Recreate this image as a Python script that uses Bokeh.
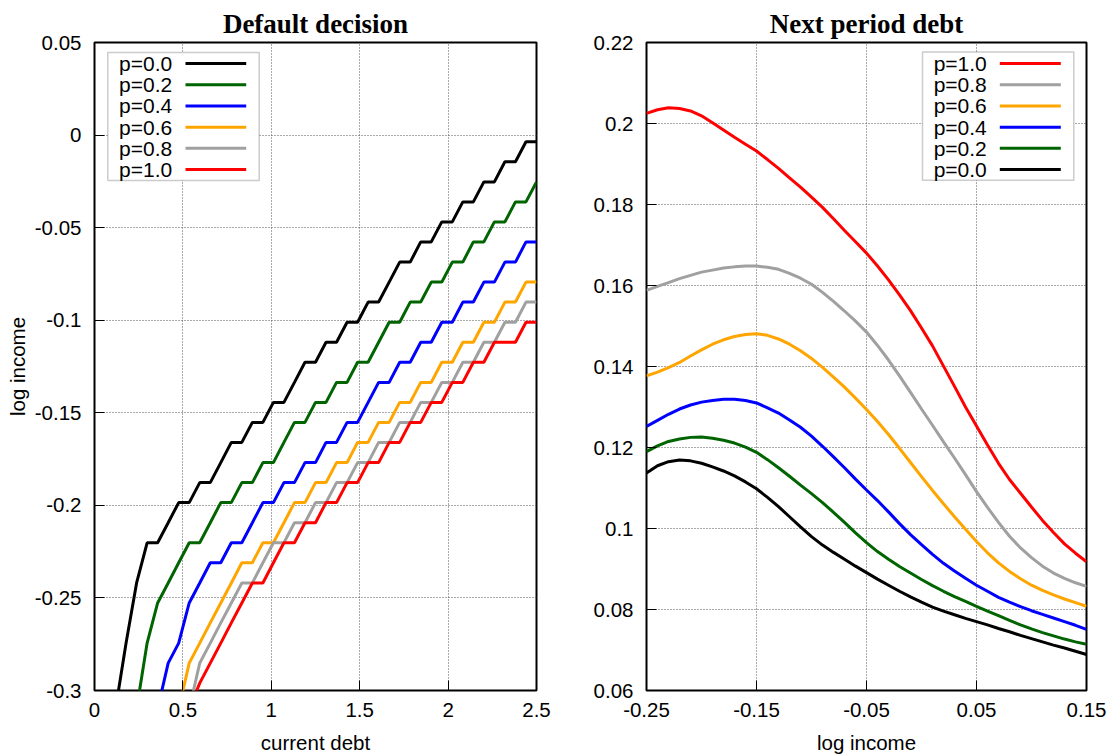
from bokeh.embed import file_html
from bokeh.resources import INLINE
from bokeh.plotting import figure
from bokeh.layouts import row
from bokeh.models import Range1d, FixedTicker, BoxAnnotation, Label

# ---------------------- DATOS ----------------------

# panel izquierdo: umbral de default (log income) segun la deuda actual
debt = [0.0, 0.0595, 0.1190, 0.1786, 0.2381, 0.2976, 0.3571, 0.4167, 0.4762, 0.5357,
        0.5952, 0.6548, 0.7143, 0.7738, 0.8333, 0.8929, 0.9524, 1.0119, 1.0714, 1.1310,
        1.1905, 1.2500, 1.3095, 1.3690, 1.4286, 1.4881, 1.5476, 1.6071, 1.6667, 1.7262,
        1.7857, 1.8452, 1.9048, 1.9643, 2.0238, 2.0833, 2.1429, 2.2024, 2.2619, 2.3214,
        2.3810, 2.4405, 2.5000]

default_p00 = [-0.31, -0.31, -0.31, -0.2744, -0.2419, -0.2202, -0.2202, -0.2094, -0.1985, -0.1985,
               -0.1877, -0.1877, -0.1769, -0.1660, -0.1660, -0.1552, -0.1552, -0.1444, -0.1444, -0.1336,
               -0.1227, -0.1227, -0.1119, -0.1119, -0.1011, -0.1011, -0.0902, -0.0902, -0.0794, -0.0686,
               -0.0686, -0.0577, -0.0577, -0.0469, -0.0469, -0.0361, -0.0361, -0.0253, -0.0253, -0.0144,
               -0.0144, -0.0036, -0.0036]
default_p02 = [-0.31, -0.31, -0.31, -0.31, -0.31, -0.2744, -0.2527, -0.2419, -0.2310, -0.2202,
               -0.2202, -0.2094, -0.1985, -0.1985, -0.1877, -0.1877, -0.1769, -0.1769, -0.1660, -0.1552,
               -0.1552, -0.1444, -0.1444, -0.1336, -0.1336, -0.1227, -0.1227, -0.1119, -0.1011, -0.1011,
               -0.0902, -0.0902, -0.0794, -0.0794, -0.0686, -0.0686, -0.0577, -0.0577, -0.0469, -0.0469,
               -0.0361, -0.0361, -0.0253]
default_p04 = [-0.31, -0.31, -0.31, -0.31, -0.31, -0.31, -0.31, -0.2852, -0.2744, -0.2527,
               -0.2419, -0.2310, -0.2310, -0.2202, -0.2202, -0.2094, -0.1985, -0.1985, -0.1877, -0.1877,
               -0.1769, -0.1769, -0.1660, -0.1660, -0.1552, -0.1552, -0.1444, -0.1336, -0.1336, -0.1227,
               -0.1227, -0.1119, -0.1119, -0.1011, -0.1011, -0.0902, -0.0902, -0.0794, -0.0794, -0.0686,
               -0.0686, -0.0577, -0.0577]
default_p06 = [-0.31, -0.31, -0.31, -0.31, -0.31, -0.31, -0.31, -0.31, -0.31, -0.2852,
               -0.2744, -0.2635, -0.2527, -0.2419, -0.2310, -0.2310, -0.2202, -0.2202, -0.2094, -0.1985,
               -0.1985, -0.1877, -0.1877, -0.1769, -0.1769, -0.1660, -0.1660, -0.1552, -0.1552, -0.1444,
               -0.1444, -0.1336, -0.1336, -0.1227, -0.1227, -0.1119, -0.1119, -0.1011, -0.1011, -0.0902,
               -0.0902, -0.0794, -0.0794]
default_p08 = [-0.31, -0.31, -0.31, -0.31, -0.31, -0.31, -0.31, -0.31, -0.31, -0.31,
               -0.2852, -0.2744, -0.2635, -0.2527, -0.2419, -0.2419, -0.2310, -0.2202, -0.2202, -0.2094,
               -0.2094, -0.1985, -0.1985, -0.1877, -0.1877, -0.1769, -0.1769, -0.1660, -0.1660, -0.1552,
               -0.1552, -0.1444, -0.1444, -0.1336, -0.1336, -0.1227, -0.1227, -0.1119, -0.1119, -0.1011,
               -0.1011, -0.0902, -0.0902]
default_p10 = [-0.31, -0.31, -0.31, -0.31, -0.31, -0.31, -0.31, -0.31, -0.31, -0.31,
               -0.2960, -0.2852, -0.2744, -0.2635, -0.2527, -0.2419, -0.2419, -0.2310, -0.2202, -0.2202,
               -0.2094, -0.2094, -0.1985, -0.1985, -0.1877, -0.1877, -0.1769, -0.1769, -0.1660, -0.1660,
               -0.1552, -0.1552, -0.1444, -0.1444, -0.1336, -0.1336, -0.1227, -0.1227, -0.1119, -0.1119,
               -0.1119, -0.1011, -0.1011]

# panel derecho: deuda del periodo siguiente segun log income
log_income = [-0.25, -0.24, -0.23, -0.22, -0.21, -0.20, -0.19, -0.18, -0.17, -0.16, -0.15,
              -0.14, -0.13, -0.12, -0.11, -0.10, -0.09, -0.08, -0.07, -0.06, -0.05,
              -0.04, -0.03, -0.02, -0.01, 0.00, 0.01, 0.02, 0.03, 0.04, 0.05,
              0.06, 0.07, 0.08, 0.09, 0.10, 0.11, 0.12, 0.13, 0.14, 0.15]

next_p00 = [0.1137, 0.1155, 0.1165, 0.1169, 0.1167, 0.1161, 0.1152, 0.1142, 0.1130, 0.1115, 0.1098,
            0.1077, 0.1054, 0.1029, 0.1004, 0.0980, 0.0959, 0.0941, 0.0924, 0.0907, 0.0891,
            0.0875, 0.0860, 0.0845, 0.0831, 0.0818, 0.0806, 0.0796, 0.0787, 0.0778, 0.0770,
            0.0762, 0.0753, 0.0745, 0.0736, 0.0728, 0.0720, 0.0712, 0.0705, 0.0697, 0.0689]
next_p02 = [0.1190, 0.1204, 0.1215, 0.1221, 0.1225, 0.1226, 0.1223, 0.1218, 0.1211, 0.1201, 0.1188,
            0.1170, 0.1150, 0.1129, 0.1107, 0.1086, 0.1064, 0.1040, 0.1015, 0.0989, 0.0965,
            0.0943, 0.0924, 0.0906, 0.0890, 0.0874, 0.0859, 0.0845, 0.0832, 0.0820, 0.0808,
            0.0796, 0.0785, 0.0773, 0.0762, 0.0752, 0.0743, 0.0735, 0.0727, 0.0720, 0.0714]
next_p04 = [0.1252, 0.1267, 0.1282, 0.1295, 0.1305, 0.1312, 0.1316, 0.1319, 0.1319, 0.1316, 0.1310,
            0.1298, 0.1285, 0.1268, 0.1250, 0.1228, 0.1203, 0.1177, 0.1150, 0.1122, 0.1095,
            0.1069, 0.1041, 0.1012, 0.0985, 0.0960, 0.0936, 0.0914, 0.0895, 0.0877, 0.0860,
            0.0845, 0.0830, 0.0818, 0.0807, 0.0797, 0.0788, 0.0779, 0.0770, 0.0761, 0.0751]
next_p06 = [0.1377, 0.1386, 0.1397, 0.1410, 0.1426, 0.1441, 0.1455, 0.1466, 0.1474, 0.1479, 0.1481,
            0.1477, 0.1468, 0.1455, 0.1439, 0.1420, 0.1398, 0.1374, 0.1349, 0.1322, 0.1294,
            0.1264, 0.1232, 0.1198, 0.1163, 0.1128, 0.1094, 0.1061, 0.1029, 0.0998, 0.0968,
            0.0940, 0.0915, 0.0894, 0.0876, 0.0860, 0.0847, 0.0836, 0.0826, 0.0817, 0.0808]
next_p08 = [0.1588, 0.1598, 0.1607, 0.1617, 0.1625, 0.1633, 0.1638, 0.1643, 0.1646, 0.1648, 0.1648,
            0.1645, 0.1640, 0.1630, 0.1618, 0.1603, 0.1583, 0.1561, 0.1537, 0.1512, 0.1485,
            0.1452, 0.1416, 0.1377, 0.1336, 0.1295, 0.1255, 0.1214, 0.1174, 0.1133, 0.1091,
            0.1052, 0.1015, 0.0981, 0.0952, 0.0928, 0.0907, 0.0890, 0.0877, 0.0866, 0.0857]
next_p10 = [0.2025, 0.2034, 0.2039, 0.2037, 0.2031, 0.2019, 0.2002, 0.1984, 0.1966, 0.1949, 0.1932,
            0.1911, 0.1889, 0.1866, 0.1843, 0.1818, 0.1793, 0.1765, 0.1736, 0.1708, 0.1680,
            0.1648, 0.1614, 0.1577, 0.1538, 0.1495, 0.1451, 0.1401, 0.1351, 0.1300, 0.1253,
            0.1206, 0.1161, 0.1121, 0.1087, 0.1053, 0.1020, 0.0990, 0.0962, 0.0939, 0.0918]

probs = ["p=0.0", "p=0.2", "p=0.4", "p=0.6", "p=0.8", "p=1.0"]
colores = ["#000000", "#006400", "#0000ff", "#ffa500", "#a0a0a0", "#ff0000"]

debt_ticks = [0, 0.5, 1, 1.5, 2, 2.5]
debt_tick_labels = ["0", "0.5", "1", "1.5", "2", "2.5"]
thr_ticks = [0.05, 0, -0.05, -0.1, -0.15, -0.2, -0.25, -0.3]
thr_tick_labels = ["0.05", "0", "-0.05", "-0.1", "-0.15", "-0.2", "-0.25", "-0.3"]
inc_ticks = [-0.25, -0.15, -0.05, 0.05, 0.15]
inc_tick_labels = ["-0.25", "-0.15", "-0.05", "0.05", "0.15"]
nxt_ticks = [0.06, 0.08, 0.1, 0.12, 0.14, 0.16, 0.18, 0.2, 0.22]
nxt_tick_labels = ["0.06", "0.08", "0.1", "0.12", "0.14", "0.16", "0.18", "0.2", "0.22"]

SANS = "Liberation Sans"
FS = "20.5px"


def estilo(p, xticks, xlabels, yticks, ylabels):
    p.xaxis.ticker = FixedTicker(ticks=xticks)
    p.yaxis.ticker = FixedTicker(ticks=yticks)
    p.xaxis.major_label_overrides = dict(zip(xticks, xlabels))
    p.yaxis.major_label_overrides = dict(zip(yticks, ylabels))
    for ax in p.axis:
        ax.axis_line_color = None
        ax.major_tick_in = 10
        ax.major_tick_out = 0
        ax.major_tick_line_color = "black"
        ax.minor_tick_line_color = None
        ax.major_label_text_font = SANS
        ax.major_label_text_font_size = FS
        ax.major_label_text_color = "black"
        ax.axis_label_text_font = SANS
        ax.axis_label_text_font_size = FS
        ax.axis_label_text_font_style = "normal"
        ax.axis_label_text_color = "black"
    p.xaxis.major_label_standoff = 12
    p.xaxis.axis_label_standoff = 11
    p.yaxis.major_label_standoff = 13
    p.yaxis.axis_label_standoff = 3
    p.grid.grid_line_color = "#555555"
    p.grid.grid_line_dash = "1 2"
    p.grid.grid_line_width = 1
    p.outline_line_color = "black"
    p.outline_line_width = 2
    p.outline_line_alpha = 1
    p.title.align = "center"
    p.title.text_color = "black"
    p.title.text_font = "Liberation Serif"
    p.title.text_font_style = "bold"
    p.title.text_font_size = "27px"
    p.title.standoff = 8


def px_a_datos(p, dx, dy):
    # pixeles desde la esquina superior izquierda del marco -> coordenadas de datos
    fw = p.width - p.min_border_left - p.min_border_right
    fh = p.height - p.min_border_top - p.min_border_bottom
    x = p.x_range.start + dx * (p.x_range.end - p.x_range.start) / fw
    y = p.y_range.end - dy * (p.y_range.end - p.y_range.start) / fh
    return x, y


def leyenda(p, etiquetas, cols, caja, texto_x, linea_x, fila0=21.0, paso=21.3):
    # estilo gnuplot: texto a la izquierda, muestra de linea a la derecha
    x0, y0 = px_a_datos(p, caja[0], caja[1])
    x1, y1 = px_a_datos(p, caja[2], caja[3])
    p.add_layout(BoxAnnotation(left=x0, right=x1, top=y0, bottom=y1, fill_color="white",
                               fill_alpha=1.0, line_color="#555555", line_width=1.5, level="underlay"))
    for i, (etq, col) in enumerate(zip(etiquetas, cols)):
        dy = fila0 + paso * i
        tx, ty = px_a_datos(p, texto_x, dy)
        p.add_layout(Label(x=tx, y=ty, text=etq, text_align="right", text_baseline="middle",
                           text_font=SANS, text_font_size="21px", text_color="black"))
        lx0, ly = px_a_datos(p, linea_x[0], dy)
        lx1, _ = px_a_datos(p, linea_x[1], dy)
        p.segment(x0=[lx0], y0=[ly], x1=[lx1], y1=[ly], line_color=col, line_width=3)


# ---------------------- GRAFICAS ----------------------

ALTO = 756

p_def = figure(title="Default decision", width=580, height=ALTO, output_backend="svg",
               toolbar_location=None, x_range=Range1d(0, 2.5), y_range=Range1d(-0.3, 0.05),
               min_border_left=94, min_border_right=44, min_border_top=42, min_border_bottom=64)
estilo(p_def, debt_ticks, debt_tick_labels, thr_ticks, thr_tick_labels)
p_def.xaxis.axis_label = "current debt"
p_def.yaxis.axis_label = "log income"

series_def = [default_p00, default_p02, default_p04, default_p06, default_p08, default_p10]
for ys, col in zip(series_def, colores):
    p_def.line(debt, ys, line_color=col, line_width=3)
leyenda(p_def, probs, colores, (13.3, 10.0, 164.7, 138.4), 77.7, (91.0, 151.7))

p_next = figure(title="Next period debt", width=530, height=ALTO, output_backend="svg",
                toolbar_location=None, x_range=Range1d(-0.25, 0.15), y_range=Range1d(0.06, 0.22),
                min_border_left=66, min_border_right=24, min_border_top=42, min_border_bottom=64)
estilo(p_next, inc_ticks, inc_tick_labels, nxt_ticks, nxt_tick_labels)
p_next.xaxis.axis_label = "log income"

series_next = [next_p00, next_p02, next_p04, next_p06, next_p08, next_p10]
for ys, col in zip(series_next, colores):
    p_next.line(log_income, ys, line_color=col, line_width=3)
leyenda(p_next, probs[::-1], colores[::-1], (276.0, 9.6, 427.3, 138.3), 340.3, (353.3, 414.3))

layout = row(p_def, p_next)
open("out.html", "w").write(file_html(layout, INLINE))
